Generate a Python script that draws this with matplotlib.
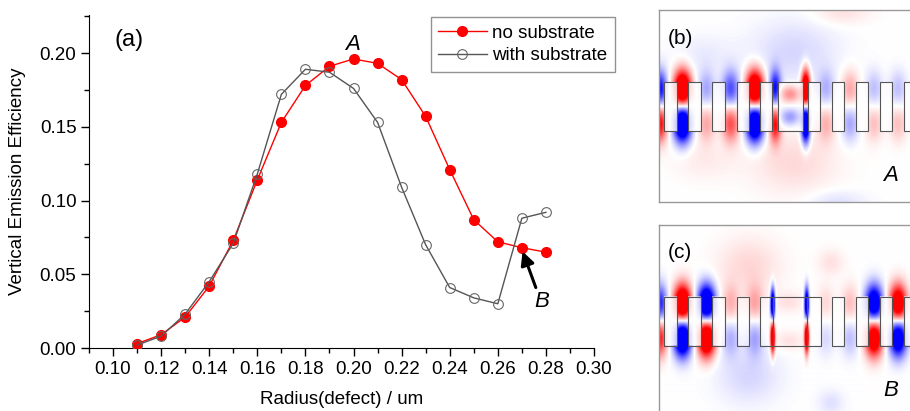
import matplotlib
matplotlib.use('Agg')
import matplotlib.pyplot as plt
from matplotlib.patches import Rectangle
from matplotlib.ticker import MultipleLocator
import numpy as np

plt.rcParams['font.family'] = ['Liberation Sans', 'DejaVu Sans']

# ---- data for panel (a) ----
radius = [0.11, 0.12, 0.13, 0.14, 0.15, 0.16, 0.17, 0.18, 0.19,
          0.20, 0.21, 0.22, 0.23, 0.24, 0.25, 0.26, 0.27, 0.28]
no_substrate = [0.003, 0.009, 0.021, 0.042, 0.073, 0.114, 0.153, 0.178, 0.191,
                0.196, 0.193, 0.182, 0.157, 0.121, 0.087, 0.072, 0.068, 0.065]
with_substrate = [0.002, 0.008, 0.023, 0.045, 0.071, 0.118, 0.172, 0.189, 0.187,
                  0.176, 0.153, 0.109, 0.070, 0.041, 0.034, 0.030, 0.088, 0.092]

# ---- field maps for panels (b) and (c), in panel pixels ----
# holes: (left, right) edges
holes_b = [(5.3, 17.7), (29.3, 41.7), (53.3, 65.7), (77.7, 90), (101, 113.3),
           (119.3, 144.3), (149, 161.3), (172.7, 185.3), (196.7, 209),
           (221, 233.3), (245.3, 257.6)]
holes_c = [(5.3, 17.7), (29.3, 41.7), (53.3, 65.7), (77.7, 90), (101, 113.7),
           (113.7, 147.7), (147.7, 161.7), (172.7, 185.3), (196.7, 209),
           (221, 233.3), (245.3, 257.6)]
hole_top, hole_bot = 71.7, 120.7
slab_mid = 96.2

# slab lobes between holes: x, amplitude of upper lobe (lower one has opposite sign), width
lobes_b_x = [1.0, 23.5, 47.5, 71.7, 95.8, 116.3, 146.7, 167, 191, 215, 239]
lobes_b_amp = [-1.0, 1.8, -0.35, -0.7, 1.8, -1.0, 1.8, -0.3, 0.35, -0.25, -0.25]
lobes_b_sx = [5, 6, 6, 6, 6, 4, 3, 6, 6, 6, 6]
lobes_c_x = [1.0, 23.5, 47.5, 71.7, 95.8, 167, 191, 215, 239]
lobes_c_amp = [-0.9, 1.8, -1.8, 0.3, 0.35, 0.15, 0.25, -1.5, 1.5]
lobes_c_sx = [5, 6, 6, 6, 6, 6, 6, 6, 6]

# free lobes: x, y, amplitude, sx, sy
extra_b = [(131, 84, 0.45, 7, 6), (131, 107, -0.4, 7, 6),
           (135, 42, -0.16, 30, 22), (135, 152, 0.15, 30, 22),
           (183, 3, 0.12, 20, 8), (178, 192, -0.12, 20, 8),
           (45, 45, -0.08, 22, 14), (45, 150, 0.08, 22, 14)]
extra_c = [(113.7, 80, -1.6, 1.6, 11), (113.7, 112, 1.6, 1.6, 11),
           (147.7, 80, -1.6, 1.6, 11), (147.7, 112, 1.6, 1.6, 11),
           (90, 42, 0.16, 22, 20), (90, 150, -0.16, 22, 20),
           (172, 38, 0.12, 9, 9), (172, 178, -0.12, 9, 9),
           (130, 78, 0.12, 10, 7), (130, 116, 0.12, 10, 7)]


def field_map(width, height, holes, lx, lamp, lsx, extra):
    X, Y = np.meshgrid(np.arange(width) + 0.5, np.arange(height) + 0.5)
    F = np.zeros_like(X)
    for x, a, sx in zip(lx, lamp, lsx):
        gx = np.exp(-(X - x) ** 2 / (2 * sx ** 2))
        F += a * gx * np.exp(-(Y - (slab_mid - 17)) ** 2 / (2 * 13 ** 2))
        F -= a * gx * np.exp(-(Y - (slab_mid + 17)) ** 2 / (2 * 13 ** 2))
    # field is weak inside the air holes
    inside = np.zeros_like(X, dtype=bool)
    for l, r in holes:
        inside |= (X > l) & (X < r) & (Y > hole_top) & (Y < hole_bot)
    F[inside] *= 0.2
    for x, y, a, sx, sy in extra:
        F += a * np.exp(-(X - x) ** 2 / (2 * sx ** 2) - (Y - y) ** 2 / (2 * sy ** 2))
    return np.clip(F, -1, 1)


W, H = 910, 411
fig = plt.figure(figsize=(W / 100, H / 100), dpi=100)

# ---- panel (a) ----
ax = fig.add_axes([89 / W, 1 - 348 / H, (594 - 89) / W, (348 - 15) / H])
ax.plot(radius, no_substrate, '-o', color='red', lw=1, ms=7,
        mfc='red', mec='red', label='no substrate', zorder=3)
ax.plot(radius, with_substrate, '-o', color='#555555', lw=1, ms=7,
        mfc='none', mec='#666666', mew=0.8, label='with substrate', zorder=4)
ax.set_xlim(0.09, 0.30)
ax.set_ylim(0.0, 0.2258)
ax.xaxis.set_minor_locator(MultipleLocator(0.01))
ax.yaxis.set_minor_locator(MultipleLocator(0.025))
ax.set_xticks(np.arange(0.10, 0.301, 0.02))
ax.set_xticklabels(['%.2f' % v for v in np.arange(0.10, 0.301, 0.02)])
ax.set_yticks(np.arange(0.0, 0.201, 0.05))
ax.set_yticklabels(['%.2f' % v for v in np.arange(0.0, 0.201, 0.05)])
ax.tick_params(which='major', direction='out', length=6, width=1, labelsize=13.5, pad=3)
ax.tick_params(which='minor', direction='out', length=3.5, width=1)
for s in ['top', 'right']:
    ax.spines[s].set_visible(False)
ax.set_xlabel('Radius(defect) / um', fontsize=13.5, labelpad=10)
ax.set_ylabel('Vertical Emission Efficiency', fontsize=13.5, labelpad=10)
ax.text(0.1005, 0.209, '(a)', fontsize=17, va='center', ha='left')
ax.text(0.1996, 0.206, 'A', fontsize=16, style='italic', ha='center', va='center')
ax.text(0.2781, 0.0312, 'B', fontsize=16, style='italic', ha='center', va='center')
ax.annotate('', xy=(0.2703, 0.0655), xytext=(0.2758, 0.0410),
            arrowprops=dict(arrowstyle='-|>', color='black', lw=2.2, mutation_scale=20,
                            shrinkA=0, shrinkB=0))
leg = ax.legend(loc='upper right', bbox_to_anchor=(615 / W, 1 - 17 / H),
                bbox_transform=fig.transFigure, fontsize=13.5, frameon=True,
                fancybox=False, edgecolor='#777777', borderaxespad=0,
                borderpad=0.4, handlelength=2.6, handletextpad=0.3, labelspacing=0.3)
leg.get_frame().set_linewidth(1)


# ---- panels (b) and (c) ----
def field_panel(top, bottom, holes, lx, lamp, lsx, extra, tag, letter, letter_y):
    pw, ph = W - 659, bottom - top
    a = fig.add_axes([659 / W, 1 - bottom / H, pw / W, ph / H])
    F = field_map(pw, ph, holes, lx, lamp, lsx, extra)
    a.imshow(F, cmap='bwr', vmin=-1, vmax=1, extent=[0, pw, ph, 0],
             interpolation='bilinear', aspect='auto')
    for l, r in holes:
        a.add_patch(Rectangle((l, hole_top), r - l, hole_bot - hole_top,
                              fill=False, ec='#555555', lw=0.8))
    a.set_xlim(0, pw)
    a.set_ylim(ph, 0)
    a.set_xticks([])
    a.set_yticks([])
    for s in a.spines.values():
        s.set_color('#999999')
        s.set_linewidth(1)
    a.spines['right'].set_visible(False)
    a.text(9, 28, tag, fontsize=15, va='center', ha='left')
    a.text(232, letter_y, letter, fontsize=16, style='italic', va='center', ha='center')
    return a


axb = field_panel(10, 202, holes_b, lobes_b_x, lobes_b_amp, lobes_b_sx, extra_b,
                  '(b)', 'A', 165)
axc = field_panel(225, 411, holes_c, lobes_c_x, lobes_c_amp, lobes_c_sx, extra_c,
                  '(c)', 'B', 165)
axc.spines['bottom'].set_visible(False)

fig.savefig('out.png', dpi=100)
